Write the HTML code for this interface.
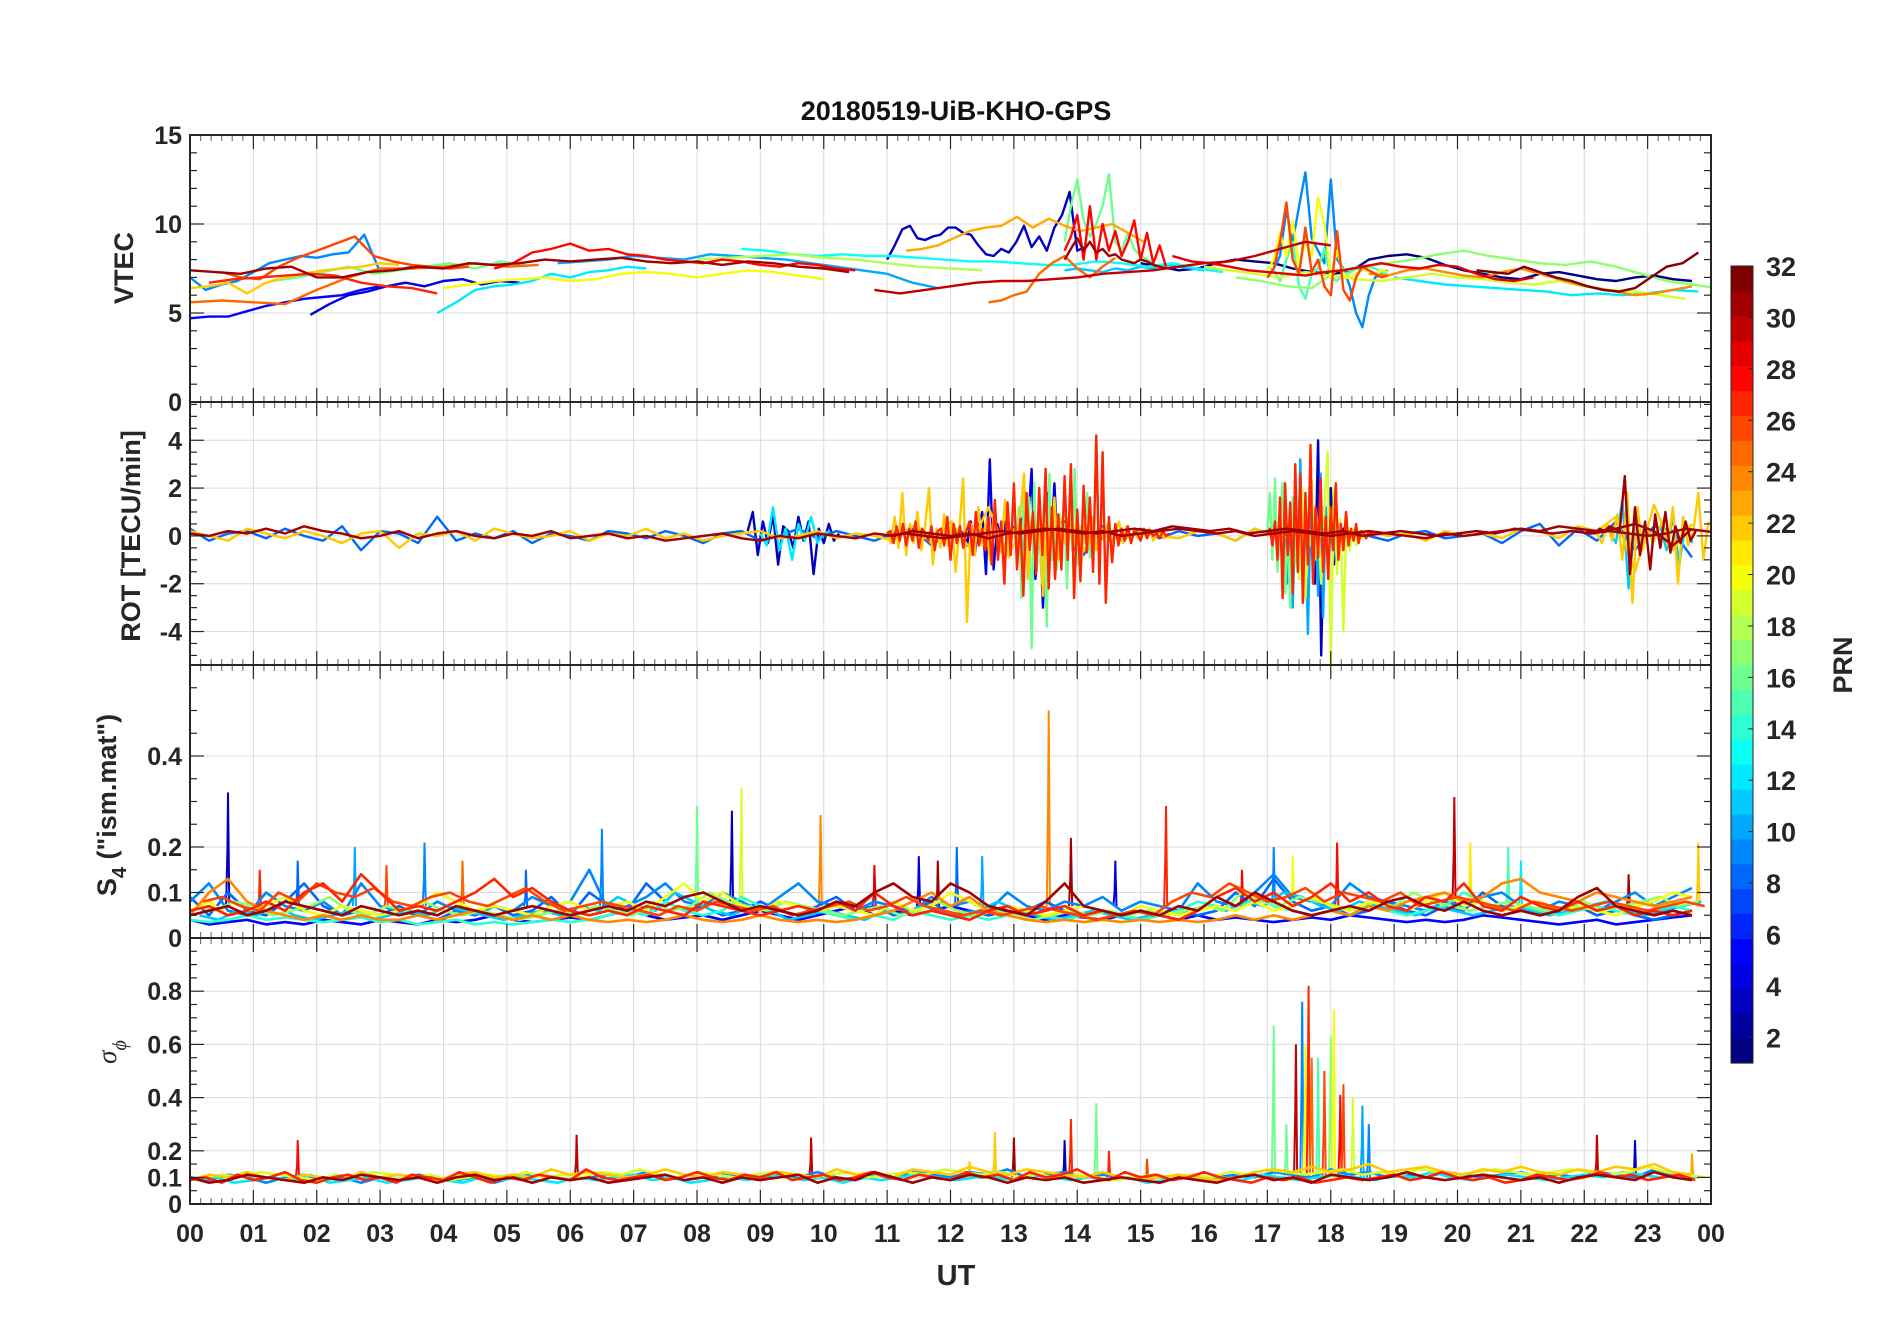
<!DOCTYPE html>
<html><head><meta charset="utf-8"><title>20180519-UiB-KHO-GPS</title>
<style>
html,body{margin:0;padding:0;background:#fff;}
svg{display:block;font-family:"Liberation Sans",Arial,sans-serif;}
</style></head>
<body>
<svg id="fig" width="1902" height="1330" viewBox="0 0 1902 1330" xmlns="http://www.w3.org/2000/svg">
<text x="956" y="120" text-anchor="middle" font-size="27" font-weight="bold" fill="#111">20180519-UiB-KHO-GPS</text>
<g id="panels"></g>
<text x="956" y="1285" text-anchor="middle" font-size="29" font-weight="bold" fill="#262626">UT</text>
<text transform="translate(133,268) rotate(-90)" text-anchor="middle" font-size="27" font-weight="bold" fill="#262626">VTEC</text>
<text transform="translate(140,536) rotate(-90)" text-anchor="middle" font-size="27" font-weight="bold" fill="#262626">ROT [TECU/min]</text>
<text transform="translate(116,805) rotate(-90)" text-anchor="middle" font-size="27" font-weight="bold" fill="#262626">S<tspan font-size="20" dy="10">4</tspan><tspan dy="-10"> ("ism.mat")</tspan></text>
<text transform="translate(116,1052) rotate(-90)" text-anchor="middle" font-size="27" font-style="italic" font-family="Liberation Serif,serif" fill="#262626">σ<tspan font-size="20" dy="10">ϕ</tspan></text>
<g id="cbar"></g>
<text transform="translate(1852,665) rotate(-90)" text-anchor="middle" font-size="27" font-weight="bold" fill="#262626">PRN</text>
</svg>
<script>
// ---------------- data ----------------
const hourLabels = ["00","01","02","03","04","05","06","07","08","09","10","11","12","13","14","15","16","17","18","19","20","21","22","23","00"];
const vtecTicks = [0,5,10,15];
const rotTicks = [-4,-2,0,2,4];
const s4Ticks = [0,0.1,0.2,0.4];
const sigTicks = [0,0.1,0.2,0.4,0.6,0.8];
const cbarTicks = [2,4,6,8,10,12,14,16,18,20,22,24,26,28,30,32];

const vtecPrn = [5,4,9,31,25,26,27,22,16,28,12,20,10,13,18,23,3,30,25,16,28,31,11,29,1,17,19,24,32,12,9,26,20,15];
const vtecT0  = [0,1.9,0,0,0,0.5,0.3,0,1.3,4.8,3.9,4.0,5.8,8.7,8.0,11.3,11.0,10.8,12.6,13.8,13.8,13.8,13.8,15.5,15.0,16.5,16.0,18.6,20.3,19.0,17.0,17.0,17.0,17.0];
const vtecDt  = [0.3,0.3,0.25,0.4,0.5,0.3,0.4,0.3,0.4,0.3,0.3,0.4,0.4,0.4,0.5,0.25,0.12,0.4,0.2,0.1,0.1,0.1,0.2,0.3,0.3,0.4,0.4,0.3,0.25,0.4,0.1,0.1,0.1,0.1];
const vtecVals = [
 [4.7,4.8,4.8,5.1,5.4,5.6,5.8,5.9,6.0,6.3,6.5],
 [4.9,5.5,6.0,6.2,6.5,6.7,6.5,6.8,6.9,6.6,6.8,6.7],
 [7.0,6.3,6.6,6.8,7.3,7.8,8.0,8.2,8.1,8.3,8.4,9.4,7.3,7.4,7.6],
 [7.4,7.3,7.2,7.5,7.6,7.0,7.0,7.3,7.4,7.6,7.5,7.8,7.7,7.8,8.0,7.9,8.0,8.1,7.9,7.8,7.9,7.7,7.9,7.8,7.6,7.5,7.3],
 [5.6,5.7,5.6,5.5,6.3,7.0,7.5,7.5,7.6,7.8,7.6,7.7],
 [7.3,7.0,6.9,7.6,8.1,8.5,8.9,9.3,8.2,7.9,7.7,7.6,7.5,7.6],
 [6.7,6.9,7.0,7.1,7.2,7.1,6.7,6.5,6.4,6.1],
 [6.4,6.5,6.7,6.1,6.7,7.0,7.2,7.4,7.5,7.6,7.8,7.7],
 [6.8,7.0,7.3,7.6,7.2,7.4,7.6,7.8,7.5,7.9,7.7],
 [7.5,7.8,8.4,8.6,8.9,8.5,8.6,8.3,8.2,8.0,7.9,7.8,8.0,7.9,7.7,7.6,7.8,7.7,7.5,7.4],
 [5.0,5.6,6.3,6.5,6.6,6.8,7.2,7.0,7.3,7.4,7.6,7.5],
 [6.4,6.6,6.8,6.9,7.0,6.8,6.9,7.2,7.3,7.2,7.0,7.2,7.4,7.3,7.1,6.9],
 [7.8,7.9,8.0,8.2,8.1,8.0,8.3,8.2,8.1,8.0,7.8,7.6,7.4,7.2,6.7,6.4],
 [8.6,8.5,8.3,8.2,8.3,8.2,8.2,8.1,8.0,7.9,7.9,7.8,7.7,7.7,7.9,7.8,7.6,7.8,7.5,7.3],
 [8.0,8.1,8.2,8.3,8.1,8.0,7.8,7.6,7.5,7.4],
 [8.5,8.6,8.8,9.2,9.6,9.8,9.9,10.4,9.8,10.3,9.9,9.6,9.8,10.0,9.5,9.0],
 [8.0,8.8,9.7,9.9,9.2,9.1,9.3,9.4,9.8,9.8,9.5,9.4,8.8,8.3,8.2,8.6,8.4,9.0,9.9,8.7,9.3,8.5,9.8,10.5,11.8,8.5,8.7],
 [6.3,6.1,6.3,6.5,6.7,6.8,6.8,6.9,7.0,7.2,7.3,7.4,7.6,7.8,7.9,8.2,8.6,9.0,8.8],
 [5.6,5.7,6.0,6.2,7.2,7.8,8.2,7.5,7.0,7.6,8.1],
 [9.0,11.0,12.5,10.2,9.3,10.0,11.0,12.8,9.0,8.5,9.5,8.6,8.2,8.0,7.8,7.5,7.6],
 [8.5,9.3,10.5,8.0,11.0,8.0,10.0,8.5,9.6,8.2,9.0,10.2,8.0,9.5,7.8,8.8,7.6],
 [8.0,8.6,9.2,8.5,9.0,8.4,8.6,8.2,8.3,8.0,7.9,7.8,8.0,7.9,7.7,7.6,7.5],
 [7.4,7.5,7.4,7.3,7.5,7.4,7.6,7.5,7.7,7.6,7.5,7.4],
 [8.2,7.9,7.8,7.6,7.4,7.3,7.2,7.1,7.3,7.4,7.6,7.8,7.6,7.5,7.7,7.6,7.2,6.9,6.8,7.0],
 [7.8,7.6,7.4,7.5,7.8,8.0,7.9,7.8,7.5,7.3,7.2,7.3,8.0,8.2,8.3,8.1,7.7,7.4,7.2,7.0,6.9,7.2,7.3,7.1,6.9,6.8,7.0,7.1,6.9,6.8],
 [7.0,6.8,6.5,6.4,7.4,7.6,7.8,8.0,8.3,8.5,8.2,8.0,7.8,7.7,7.9,7.6,7.2,6.8,6.6,6.4],
 [7.6,7.4,7.2,7.0,7.3,7.1,6.9,6.8,7.0,7.2,7.0,6.9,6.7,6.6,6.8,6.5,6.3,6.2,6.0,5.8],
 [7.2,7.1,7.4,7.5,7.3,7.1,7.0,7.3,7.5,7.2,6.9,6.6,6.4,6.2,6.0,6.1,6.3,6.5],
 [7.4,7.3,7.2,7.6,7.3,7.0,6.8,6.5,6.3,6.2,6.4,7.0,7.6,7.8,8.4],
 [7.0,6.8,6.6,6.5,6.4,6.3,6.2,6.0,6.1,6.0,6.1,6.3,6.2],
 [7.0,7.5,8.2,10.8,9.0,11.0,12.9,9.2,8.5,7.8,12.5,8.0,7.5,6.5,5.0,4.2,6.0,7.0,7.2,7.4],
 [7.0,7.5,9.0,11.2,8.0,7.2,9.8,7.3,8.0,6.5,6.0,9.6,6.3,5.7,7.0,7.6,7.4,7.2,7.0,7.1],
 [7.4,8.0,9.5,8.2,10.2,7.6,9.0,8.2,11.5,10.0,7.0,8.5,7.2,7.0,7.2,7.5,7.3,7.2,7.4,7.3],
 [7.6,7.4,6.8,8.0,9.0,6.5,5.8,7.2,7.5,8.6,7.0,6.8,7.2,7.3,7.5,7.4,7.6,7.5,7.3,7.2]
];

const rotPrn = [8,22,31,3,12,22,27,16,4,31,16,10,19,27,3,22,11,31];
const rotT0  = [0,0,0,8.8,9.0,11.0,11.0,13.0,12.2,11.0,17.0,17.2,17.4,17.0,17.6,22.2,22.4,22.0];
const rotDt  = [0.3,0.3,0.3,0.08,0.1,0.06,0.05,0.04,0.06,0.3,0.04,0.04,0.05,0.04,0.05,0.08,0.1,0.08];
const rotVals = [
 [0.3,-0.2,0.1,0.2,-0.1,0.3,0.0,-0.2,0.4,-0.6,0.2,0.1,-0.3,0.8,-0.2,0.1,-0.1,0.2,-0.3,0.1,0.0,-0.2,0.2,0.1,-0.1,0.2,0.0,-0.3,0.1,0.2,-0.2,0.0,0.3,-0.1,0.2,0.0,-0.2,0.1,0.3,-0.4,0.2,0.0,-0.1,0.2,0.5,-0.3,0.6,-0.8,0.4,-0.2,0.3,-0.1,0.2,0.0,0.1,-0.2,0.3,0.0,-0.1,0.2,-0.1,0.1,0.0,-0.2,0.1,0.2,-0.1,0.0,0.1,-0.3,0.2,0.5,-0.4,0.3,-0.2,0.6,-0.6,0.4,0.2,-0.9],
 [0.2,0.0,-0.2,0.3,0.1,-0.1,0.2,0.0,-0.3,0.1,0.2,-0.5,0.1,0.0,0.2,-0.2,0.3,0.1,-0.1,0.0,0.2,-0.2,0.1,0.0,0.3,-0.1,0.1,-0.2,0.0,0.1,0.2,-0.1,0.0,0.2,-0.1,0.1,0.0,-0.2,0.4,-0.3,0.6,-0.5,1.2,-0.8,0.5,-0.4,0.9,-0.6,0.3,-0.2,0.2,0.0,-0.1,0.2,0.1,-0.2,0.3,0.0,-0.1,0.2,0.1,-0.1,0.2,0.0,0.1,-0.2,0.2,0.0,0.1,-0.1,0.3,0.2,-0.1,0.4,0.2,0.8,-1.5,1.3,-0.6,0.5],
 [0.1,0.0,0.2,0.1,0.3,0.1,0.4,0.2,0.1,-0.1,0.0,0.2,-0.1,0.1,0.2,0.0,-0.1,0.1,0.0,0.2,-0.1,0.0,0.1,-0.1,0.0,-0.2,-0.1,0.0,0.1,-0.1,-0.2,0.0,-0.1,0.1,0.0,-0.1,0.1,0.0,0.2,0.1,0.0,0.1,-0.1,0.1,0.2,0.3,0.2,0.1,0.2,0.0,0.1,0.2,0.3,0.2,0.1,0.2,0.0,0.1,0.2,0.1,0.0,0.1,0.2,0.1,0.0,-0.1,0.1,0.0,0.1,0.2,0.3,0.2,0.4,0.3,0.2,0.3,0.5,0.2,-0.4,0.3],
 [0.2,1.0,-0.8,0.6,-0.3,0.9,-1.2,0.4,0.2,-0.5,0.8,-0.2,0.6,-1.6,0.3,-0.3,0.5,-0.2,0.1],
 [0.1,-0.4,1.2,-0.6,0.3,-1.0,0.5,-0.2,0.8,-0.3,0.1,0.2],
 [0.2,-0.3,0.8,-0.5,1.8,-0.8,0.5,-0.3,1.0,-0.6,0.4,2.0,-1.2,0.3,-0.5,0.9,-0.4,0.6,-1.5,0.3,2.4,-3.6,0.5,-0.8,1.2,-0.4,0.6,-1.0,0.9,0.2,-0.7,1.5,-0.9,0.3,-0.2,0.8,2.6,-1.8,0.6,-0.4,1.0,-2.5,0.8,-0.6,1.6,-1.0,0.4,-0.3,0.7,-0.5,0.9,-1.2,0.5,-0.3,0.8,-0.6,0.3,-0.2,0.5,-0.4,0.2,0.6,-0.3,0.4,-0.2,0.3,-0.1,0.2,0.0,0.3,-0.2,0.1,0.2,-0.1,0.1],
 [0.1,0.2,-0.3,0.4,-0.2,0.5,-0.4,0.3,-0.2,0.6,-0.5,0.3,0.1,-0.2,0.4,-0.6,0.2,0.3,-0.4,0.8,-1.0,0.5,-0.3,0.4,-0.5,0.2,0.6,-0.8,1.0,-0.4,0.3,-0.6,0.8,-1.2,1.5,-1.0,0.6,-2.0,1.4,-0.8,2.2,-1.4,0.7,-2.5,1.8,-0.6,1.0,-1.6,2.0,-0.8,2.8,-2.2,1.2,-1.8,0.9,-1.4,2.5,-1.0,3.0,-2.6,1.1,-1.9,2.1,-0.7,1.6,-1.5,4.2,-2.0,3.5,-2.8,0.8,-1.1,0.5,-0.4,0.3,-0.2,0.4,-0.3,0.2,0.1,-0.2,0.3,-0.1,0.2,0.0,0.1,-0.1,0.2,0.0,0.1],
 [0.3,-0.5,1.2,-2.6,2.5,-0.8,1.6,-4.7,2.2,-1.5,0.8,-2.0,1.0,-3.8,2.6,-1.0,0.6,-1.4,0.9,-0.4,0.5,-2.2,1.4,-0.6,2.8,-1.2,0.4,-0.5,0.3,1.8,-0.9,0.4,-0.2,0.3,-0.1,0.2,0.1,0.0],
 [0.2,-0.4,0.6,-0.8,0.3,1.0,-1.6,3.2,-1.4,0.5,-0.3,0.6,-0.8,0.4,-0.2,0.9,-0.5,0.3,2.8,-1.8,0.6,-3.0,1.8,-0.8,2.2,-1.0,0.6,-0.4,0.9,-0.6,0.3,-0.2,0.4,-0.3,0.2,0.1,-0.2,0.1,0.0],
 [0.0,0.1,0.0,-0.1,0.0,0.1,0.2,0.1,0.2,0.3,0.2,0.1,0.2,0.3,0.2,0.4,0.3,0.2,0.3,0.1,0.2,0.3,0.2,0.1,0.2,0.0,0.1,0.2,0.1,0.0,0.1,0.2,0.1,0.3,0.2,0.1,0.2,0.1,0.2,0.1,0.0,0.1,0.3,0.2,0.1],
 [0.2,1.8,-1.0,2.4,-1.5,0.6,2.2,-2.4,0.5,-3.0,1.6,-1.2,0.4,-0.6,1.0,-2.6,0.8,-0.4,0.3,-0.1,0.2,0.0,0.1],
 [0.1,-1.2,0.6,-2.0,1.2,-3.0,0.8,-1.5,3.2,-2.8,0.4,-4.1,1.0,-1.8,0.6,-2.5,2.6,-3.4,1.2,-0.6,0.3,-1.0,0.4,-0.2,0.3,-0.1],
 [0.2,1.4,-1.8,2.0,-2.6,0.8,2.3,-1.0,0.6,-2.0,1.2,3.5,-5.4,2.0,-1.6,0.7,-4.0,0.9,-0.6,0.3,-0.4,0.2,-0.1,0.2],
 [0.1,0.3,-0.4,0.6,-1.0,1.6,-2.6,2.2,-0.8,1.4,-2.4,3.0,-1.5,2.6,-2.8,1.8,-1.2,3.8,-2.0,1.2,-0.9,2.4,-1.5,0.8,-1.8,1.2,-0.6,2.2,-1.0,0.5,-0.6,1.0,-0.4,0.3,-0.2,0.5,-0.3,0.2,0.1,-0.1,0.2,0.1,0.0],
 [0.2,-0.5,1.4,-2.0,4.0,-5.0,1.2,-0.8,2.0,-1.2,0.6,-0.4,0.3,-0.2,0.2],
 [0.1,-0.3,0.5,-0.2,0.9,-1.0,1.8,-2.8,1.2,-0.6,0.4,-0.3,0.2,0.6,-0.4,1.2,-2.0,0.8,-0.4,0.2,1.8,-1.0,0.6],
 [0.2,-0.3,1.5,-2.2,0.6,-0.4,0.3,-0.2,0.4,-0.6,0.8,-1.2,0.5,-0.3],
 [0.1,0.2,0.1,0.3,0.2,0.4,0.3,0.2,2.5,-1.6,1.2,-0.8,0.6,-1.4,0.9,-0.5,1.0,-0.7,0.4,-0.3,0.6,-0.2,0.2]
];

const s4Prn = [5,9,27,31,20,14,24,8,11,17,26];
const s4T0  = [0,0,0,0,0,0,0,0,0.15,0.1,0.2];
const s4Dt  = [0.3,0.3,0.3,0.3,0.3,0.3,0.3,0.3,0.3,0.3,0.3];
const s4Vals = [
 [0.04,0.03,0.035,0.04,0.03,0.035,0.03,0.04,0.035,0.03,0.04,0.035,0.03,0.04,0.035,0.04,0.05,0.04,0.035,0.04,0.045,0.04,0.05,0.06,0.05,0.04,0.045,0.05,0.04,0.05,0.06,0.05,0.04,0.05,0.06,0.07,0.05,0.06,0.05,0.06,0.07,0.06,0.05,0.06,0.05,0.04,0.05,0.045,0.04,0.05,0.06,0.05,0.04,0.05,0.04,0.045,0.04,0.035,0.04,0.045,0.04,0.05,0.045,0.04,0.035,0.04,0.035,0.04,0.05,0.045,0.04,0.035,0.03,0.035,0.04,0.03,0.035,0.04,0.045,0.05],
 [0.08,0.12,0.06,0.05,0.1,0.07,0.06,0.08,0.05,0.12,0.07,0.06,0.05,0.08,0.06,0.05,0.07,0.06,0.09,0.07,0.08,0.15,0.06,0.07,0.09,0.12,0.08,0.07,0.1,0.08,0.06,0.09,0.12,0.08,0.07,0.06,0.08,0.07,0.06,0.09,0.07,0.08,0.06,0.1,0.07,0.06,0.08,0.07,0.09,0.06,0.08,0.07,0.06,0.12,0.08,0.07,0.1,0.14,0.09,0.08,0.07,0.12,0.09,0.08,0.07,0.06,0.08,0.07,0.09,0.1,0.07,0.06,0.08,0.07,0.06,0.08,0.1,0.07,0.09,0.11],
 [0.06,0.07,0.05,0.06,0.08,0.06,0.1,0.12,0.08,0.14,0.1,0.06,0.07,0.06,0.08,0.1,0.13,0.09,0.11,0.08,0.06,0.05,0.06,0.05,0.07,0.06,0.05,0.08,0.07,0.06,0.05,0.06,0.07,0.06,0.08,0.06,0.1,0.07,0.05,0.06,0.05,0.04,0.06,0.07,0.05,0.06,0.07,0.05,0.06,0.05,0.06,0.05,0.04,0.06,0.09,0.11,0.08,0.1,0.07,0.09,0.12,0.08,0.1,0.07,0.06,0.09,0.08,0.12,0.07,0.06,0.09,0.07,0.06,0.08,0.06,0.07,0.05,0.06,0.05,0.06],
 [0.05,0.06,0.07,0.05,0.06,0.08,0.07,0.06,0.05,0.07,0.06,0.05,0.06,0.05,0.07,0.06,0.05,0.06,0.07,0.06,0.05,0.06,0.07,0.06,0.08,0.07,0.09,0.1,0.08,0.06,0.07,0.06,0.05,0.06,0.08,0.07,0.1,0.12,0.09,0.08,0.12,0.1,0.07,0.06,0.05,0.08,0.12,0.07,0.06,0.05,0.06,0.05,0.07,0.06,0.09,0.07,0.1,0.08,0.06,0.05,0.06,0.07,0.06,0.08,0.09,0.07,0.06,0.08,0.06,0.05,0.06,0.05,0.06,0.09,0.11,0.07,0.06,0.05,0.06,0.05],
 [0.06,0.08,0.05,0.06,0.07,0.09,0.06,0.05,0.07,0.06,0.05,0.06,0.07,0.1,0.08,0.06,0.07,0.06,0.05,0.07,0.08,0.06,0.07,0.08,0.06,0.09,0.12,0.08,0.1,0.07,0.06,0.08,0.07,0.06,0.07,0.06,0.05,0.08,0.06,0.07,0.1,0.08,0.06,0.07,0.06,0.05,0.06,0.07,0.06,0.05,0.07,0.06,0.05,0.06,0.07,0.06,0.08,0.06,0.07,0.09,0.07,0.06,0.08,0.07,0.06,0.08,0.1,0.07,0.08,0.06,0.07,0.08,0.06,0.07,0.06,0.05,0.07,0.08,0.1,0.09],
 [0.04,0.035,0.04,0.05,0.04,0.045,0.04,0.035,0.04,0.045,0.035,0.04,0.03,0.035,0.04,0.03,0.035,0.03,0.035,0.04,0.035,0.04,0.05,0.06,0.05,0.08,0.06,0.05,0.06,0.09,0.07,0.06,0.05,0.06,0.05,0.04,0.05,0.04,0.06,0.05,0.04,0.05,0.04,0.05,0.06,0.05,0.04,0.05,0.06,0.05,0.04,0.05,0.06,0.08,0.07,0.06,0.09,0.07,0.06,0.05,0.06,0.05,0.07,0.06,0.05,0.06,0.07,0.1,0.08,0.06,0.07,0.06,0.05,0.06,0.07,0.06,0.05,0.06,0.07,0.06],
 [0.05,0.1,0.13,0.08,0.06,0.05,0.04,0.05,0.04,0.05,0.04,0.04,0.05,0.04,0.05,0.06,0.05,0.04,0.05,0.04,0.05,0.04,0.035,0.04,0.035,0.04,0.05,0.04,0.035,0.04,0.05,0.04,0.035,0.04,0.035,0.04,0.05,0.06,0.08,0.1,0.07,0.09,0.06,0.05,0.04,0.035,0.04,0.035,0.04,0.035,0.04,0.035,0.04,0.035,0.04,0.05,0.04,0.05,0.04,0.05,0.06,0.05,0.07,0.06,0.08,0.09,0.1,0.08,0.09,0.12,0.13,0.1,0.09,0.08,0.1,0.09,0.08,0.07,0.08,0.09],
 [0.09,0.05,0.1,0.06,0.05,0.08,0.12,0.07,0.05,0.06,0.05,0.07,0.05,0.04,0.06,0.05,0.07,0.05,0.06,0.09,0.05,0.1,0.07,0.06,0.12,0.08,0.06,0.07,0.05,0.06,0.08,0.06,0.05,0.07,0.09,0.06,0.07,0.05,0.06,0.08,0.05,0.06,0.05,0.07,0.06,0.08,0.06,0.05,0.06,0.05,0.04,0.05,0.06,0.05,0.06,0.1,0.07,0.13,0.08,0.06,0.07,0.05,0.06,0.08,0.06,0.05,0.07,0.06,0.1,0.07,0.06,0.05,0.06,0.07,0.05,0.06,0.05,0.04,0.05,0.06],
 [0.05,0.04,0.06,0.05,0.07,0.05,0.04,0.05,0.06,0.04,0.05,0.06,0.05,0.07,0.06,0.05,0.04,0.05,0.06,0.05,0.07,0.06,0.09,0.07,0.06,0.1,0.08,0.06,0.05,0.07,0.06,0.04,0.05,0.06,0.05,0.04,0.06,0.05,0.07,0.06,0.05,0.06,0.08,0.06,0.05,0.04,0.05,0.06,0.05,0.04,0.05,0.06,0.05,0.07,0.06,0.08,0.07,0.1,0.09,0.07,0.06,0.08,0.07,0.06,0.05,0.07,0.06,0.05,0.06,0.07,0.06,0.05,0.06,0.07,0.08,0.06,0.05,0.06,0.07,0.08],
 [0.07,0.06,0.08,0.07,0.05,0.06,0.07,0.09,0.06,0.05,0.07,0.06,0.08,0.06,0.05,0.06,0.05,0.04,0.05,0.06,0.05,0.07,0.06,0.05,0.08,0.06,0.07,0.1,0.08,0.07,0.06,0.08,0.07,0.06,0.05,0.06,0.07,0.05,0.06,0.08,0.06,0.05,0.06,0.05,0.04,0.05,0.06,0.05,0.06,0.05,0.06,0.05,0.06,0.07,0.06,0.1,0.08,0.07,0.09,0.08,0.07,0.06,0.08,0.07,0.1,0.08,0.07,0.06,0.07,0.08,0.07,0.06,0.07,0.08,0.06,0.07,0.08,0.09,0.07,0.08],
 [0.08,0.09,0.07,0.06,0.1,0.08,0.12,0.1,0.09,0.11,0.08,0.07,0.09,0.1,0.08,0.07,0.09,0.11,0.08,0.06,0.07,0.08,0.07,0.06,0.05,0.07,0.06,0.08,0.07,0.06,0.07,0.05,0.06,0.07,0.08,0.06,0.07,0.09,0.07,0.06,0.05,0.06,0.05,0.06,0.07,0.06,0.05,0.04,0.05,0.06,0.05,0.08,0.1,0.09,0.12,0.1,0.08,0.09,0.11,0.08,0.1,0.09,0.08,0.1,0.07,0.08,0.09,0.08,0.07,0.06,0.08,0.07,0.06,0.07,0.08,0.07,0.06,0.07,0.08,0.07]
];
const s4SpikeT = [0.6,1.7,2.6,3.7,6.5,8.0,8.55,8.7,9.95,11.5,12.1,13.55,13.9,15.4,17.1,18.1,19.95,20.2,20.8,23.8,11.8,12.5,14.6,17.4,21.0,1.1,3.1,4.3,5.3,10.8,16.6,22.7];
const s4SpikeV = [0.32,0.17,0.2,0.21,0.24,0.29,0.28,0.33,0.27,0.18,0.2,0.5,0.22,0.29,0.2,0.21,0.31,0.21,0.2,0.21,0.17,0.18,0.17,0.18,0.17,0.15,0.16,0.17,0.15,0.16,0.15,0.14];
const s4SpikePrn = [3,8,10,9,9,16,3,19,24,4,8,24,31,27,9,28,30,21,15,22,31,10,4,20,12,27,26,25,8,29,28,31];

const sigPrn = [9,22,27,31,12,19];
const sigT0 = [0,0,0,0,0.1,0.2];
const sigDt = [0.3,0.3,0.25,0.3,0.3,0.3];
const sigVals = [
 [0.1,0.09,0.11,0.1,0.08,0.1,0.11,0.09,0.1,0.08,0.1,0.09,0.11,0.1,0.09,0.1,0.08,0.1,0.11,0.1,0.09,0.1,0.11,0.1,0.12,0.1,0.09,0.1,0.11,0.1,0.09,0.11,0.1,0.12,0.1,0.09,0.11,0.1,0.12,0.11,0.1,0.12,0.11,0.13,0.1,0.11,0.12,0.1,0.11,0.1,0.09,0.1,0.1,0.09,0.1,0.11,0.1,0.12,0.11,0.1,0.13,0.11,0.12,0.1,0.11,0.1,0.12,0.11,0.1,0.11,0.12,0.1,0.11,0.1,0.12,0.11,0.1,0.13,0.11,0.1],
 [0.09,0.11,0.1,0.12,0.1,0.09,0.11,0.1,0.09,0.12,0.1,0.11,0.1,0.09,0.11,0.12,0.1,0.11,0.1,0.13,0.11,0.12,0.11,0.1,0.11,0.13,0.11,0.1,0.12,0.11,0.1,0.12,0.11,0.1,0.13,0.11,0.12,0.1,0.13,0.12,0.11,0.14,0.12,0.11,0.13,0.12,0.11,0.1,0.12,0.1,0.09,0.1,0.11,0.1,0.09,0.1,0.12,0.13,0.12,0.14,0.12,0.13,0.15,0.12,0.13,0.14,0.12,0.11,0.13,0.12,0.14,0.12,0.11,0.13,0.12,0.14,0.13,0.15,0.12,0.11],
 [0.09,0.1,0.08,0.11,0.09,0.1,0.12,0.09,0.08,0.1,0.11,0.09,0.1,0.08,0.11,0.1,0.09,0.12,0.1,0.08,0.1,0.09,0.11,0.1,0.09,0.13,0.1,0.09,0.1,0.11,0.09,0.1,0.12,0.1,0.09,0.11,0.1,0.12,0.09,0.1,0.11,0.09,0.1,0.12,0.1,0.09,0.11,0.1,0.09,0.12,0.1,0.11,0.09,0.12,0.1,0.11,0.13,0.1,0.09,0.12,0.1,0.11,0.09,0.1,0.12,0.1,0.09,0.08,0.1,0.09,0.1,0.08,0.09,0.1,0.09,0.1,0.11,0.09,0.1,0.12,0.1,0.09,0.1,0.08,0.09,0.11,0.1,0.09,0.1,0.12,0.1,0.11,0.09,0.1,0.11,0.09],
 [0.1,0.08,0.09,0.11,0.1,0.09,0.08,0.1,0.09,0.11,0.1,0.09,0.1,0.08,0.1,0.11,0.09,0.1,0.08,0.1,0.09,0.1,0.08,0.09,0.1,0.11,0.09,0.1,0.08,0.1,0.09,0.1,0.11,0.08,0.1,0.09,0.12,0.1,0.08,0.1,0.09,0.11,0.1,0.08,0.1,0.09,0.1,0.08,0.09,0.1,0.09,0.08,0.1,0.09,0.08,0.1,0.11,0.09,0.1,0.08,0.11,0.1,0.09,0.1,0.12,0.1,0.09,0.1,0.11,0.1,0.09,0.1,0.08,0.1,0.11,0.1,0.09,0.12,0.1,0.09],
 [0.09,0.1,0.08,0.09,0.1,0.09,0.11,0.08,0.09,0.1,0.08,0.09,0.1,0.09,0.08,0.1,0.09,0.1,0.09,0.08,0.1,0.09,0.1,0.11,0.09,0.1,0.08,0.09,0.1,0.09,0.11,0.1,0.09,0.1,0.08,0.1,0.09,0.1,0.11,0.1,0.09,0.1,0.1,0.09,0.11,0.1,0.09,0.1,0.09,0.1,0.08,0.09,0.1,0.09,0.1,0.09,0.11,0.1,0.09,0.1,0.11,0.1,0.09,0.11,0.1,0.12,0.1,0.09,0.1,0.11,0.1,0.09,0.1,0.11,0.1,0.12,0.11,0.1,0.11,0.1],
 [0.1,0.11,0.1,0.12,0.11,0.1,0.09,0.11,0.1,0.12,0.11,0.1,0.11,0.09,0.1,0.11,0.1,0.12,0.1,0.11,0.1,0.12,0.11,0.13,0.11,0.1,0.12,0.11,0.1,0.11,0.12,0.11,0.1,0.11,0.12,0.1,0.11,0.12,0.11,0.13,0.12,0.11,0.12,0.1,0.11,0.1,0.11,0.1,0.09,0.1,0.11,0.1,0.11,0.1,0.12,0.11,0.13,0.12,0.11,0.12,0.13,0.11,0.12,0.11,0.13,0.12,0.11,0.12,0.13,0.12,0.11,0.12,0.13,0.12,0.11,0.12,0.14,0.12,0.11,0.1]
];
const sigSpikeT = [1.7,6.1,9.8,12.7,13.0,13.8,13.9,14.3,14.5,17.1,17.3,17.45,17.55,17.6,17.65,17.7,17.8,17.9,18.0,18.05,18.15,18.2,18.35,18.5,18.6,22.2,22.8,23.7,12.3,15.1];
const sigSpikeV = [0.24,0.26,0.25,0.27,0.25,0.24,0.32,0.38,0.2,0.67,0.3,0.6,0.76,0.6,0.82,0.55,0.55,0.5,0.63,0.73,0.41,0.45,0.4,0.37,0.3,0.26,0.24,0.19,0.16,0.17];
const sigSpikePrn = [28,30,30,22,31,3,27,16,27,16,16,30,9,20,27,25,15,26,17,20,28,26,19,10,9,30,3,23,22,26];

// ---------------- helpers ----------------
const NS = "http://www.w3.org/2000/svg";
const X0 = 190, X1 = 1711;
function xs(h){ return X0 + (X1 - X0) * h / 24; }
function jet(p){
  const x = (p - 1) / 31;
  const c = v => Math.round(255 * Math.max(0, Math.min(1, v)));
  return `rgb(${c(1.5-Math.abs(4*x-3))},${c(1.5-Math.abs(4*x-2))},${c(1.5-Math.abs(4*x-1))})`;
}
function mk(tag, attrs, parent){
  const e = document.createElementNS(NS, tag);
  for (const k in attrs) e.setAttribute(k, attrs[k]);
  parent.appendChild(e);
  return e;
}
const panelsG = document.getElementById("panels");
const panels = [
  {name:"vtec", top:135, bot:402, lo:0, hi:15, ticks:vtecTicks, minor:1, labels:vtecTicks.map(String)},
  {name:"rot", top:402, bot:665, lo:-5.4, hi:5.6, ticks:rotTicks, minor:0.5, labels:rotTicks.map(String)},
  {name:"s4", top:665, bot:938, lo:0, hi:0.6, ticks:s4Ticks, minor:0.05, labels:s4Ticks.map(v=>v===0?"0":String(v))},
  {name:"sigma", top:938, bot:1204, lo:0, hi:1, ticks:sigTicks, minor:0.05, labels:sigTicks.map(v=>v===0?"0":String(v))}
];
function ys(P, v){ return P.bot - (v - P.lo) / (P.hi - P.lo) * (P.bot - P.top); }

panels.forEach((P, pi) => {
  const g = mk("g", {}, panelsG);
  
  
  for (let h = 1; h < 24; h++) {
    const l = mk("line", {x1:xs(h), x2:xs(h), y1:P.top, y2:P.bot, stroke:"#dcdcdc", "stroke-width":1}, g);
    
    
  }
  P.ticks.forEach((t, i) => {
    const y = ys(P, t);
    if (y > P.top + 1 && y < P.bot - 1) {
      const l = mk("line", {x1:X0, x2:X1, y1:y, y2:y, stroke:"#dcdcdc", "stroke-width":1}, g);
      
      
    }
    const tx = mk("text", {x:X0 - 8, y:y + 9, "text-anchor":"end", "font-size":25, "font-weight":"bold", fill:"#262626"}, g);
    tx.textContent = P.labels[i];
    
    
  });
  const cp = mk("clipPath", {id:"clip" + pi}, g);
  mk("rect", {x:X0, y:P.top, width:X1 - X0, height:P.bot - P.top}, cp);
  const dg = mk("g", {"clip-path":`url(#clip${pi})`}, g);
  
  
  P.dg = dg; P.g = g;
});

function drawSeries(P, prns, t0s, dts, vals, width){
  const idx = prns.map((p, i) => i).sort((a, b) => prns[a] - prns[b]);
  idx.forEach(i => {
    const pts = vals[i].map((v, k) => xs(t0s[i] + k * dts[i]).toFixed(1) + "," + ys(P, v).toFixed(1)).join(" ");
    const pl = mk("polyline", {points:pts, fill:"none", stroke:jet(prns[i]), "stroke-width":width, "stroke-linejoin":"round"}, P.dg);
    
    
  });
}
function drawSpikes(P, ts, vs, prns, base){
  ts.forEach((t, i) => {
    const pts = [[t - 0.03, base], [t - 0.01, vs[i] * 0.6], [t, vs[i]], [t + 0.02, base]]
      .map(q => xs(q[0]).toFixed(1) + "," + ys(P, q[1]).toFixed(1)).join(" ");
    const pl = mk("polyline", {points:pts, fill:"none", stroke:jet(prns[i]), "stroke-width":2}, P.dg);
    
    
  });
}
drawSeries(panels[0], vtecPrn, vtecT0, vtecDt, vtecVals, 2.4);
drawSeries(panels[1], rotPrn, rotT0, rotDt, rotVals, 2.4);
drawSpikes(panels[2], s4SpikeT, s4SpikeV, s4SpikePrn, 0.07);
drawSeries(panels[2], s4Prn, s4T0, s4Dt, s4Vals, 2.6);
drawSpikes(panels[3], sigSpikeT, sigSpikeV, sigSpikePrn, 0.1);
drawSeries(panels[3], sigPrn, sigT0, sigDt, sigVals, 2.6);

panels.forEach(P => {
  const g = P.g;
  for (let m = 0; m <= 144; m++) {
    const x = xs(m / 6), major = m % 6 === 0, len = major ? 14 : 6;
    mk("line", {x1:x, x2:x, y1:P.bot, y2:P.bot - len, stroke:major ? "#262626" : "#777", "stroke-width":1.2}, g);
    mk("line", {x1:x, x2:x, y1:P.top, y2:P.top + len, stroke:major ? "#262626" : "#777", "stroke-width":1.2}, g);
  }
  for (let v = P.lo; v <= P.hi + 1e-9; v += P.minor) {
    const vv = Math.round(v / P.minor) * P.minor;
    const y = ys(P, vv);
    if (y < P.top || y > P.bot) continue;
    const major = P.ticks.some(t => Math.abs(t - vv) < 1e-6), len = major ? 14 : 7;
    mk("line", {x1:X0, x2:X0 + len, y1:y, y2:y, stroke:"#262626", "stroke-width":1.2}, g);
    mk("line", {x1:X1, x2:X1 - len, y1:y, y2:y, stroke:"#262626", "stroke-width":1.2}, g);
  }
  const r = mk("rect", {x:X0, y:P.top, width:X1 - X0, height:P.bot - P.top, fill:"none", stroke:"#262626", "stroke-width":2}, g);
  
  
});

hourLabels.forEach((s, h) => {
  const t = mk("text", {x:xs(h), y:1242, "text-anchor":"middle", "font-size":25, "font-weight":"bold", fill:"#262626"}, panelsG);
  t.textContent = s;
  
  
});

const cb = document.getElementById("cbar");
const CB = {x:1731, w:22, top:266, bot:1063};
for (let k = 1; k <= 32; k++) {
  const h = (CB.bot - CB.top) / 32;
  const r = mk("rect", {x:CB.x, y:CB.bot - k * h, width:CB.w, height:h + 0.6, fill:jet(k)}, cb);
  
  
}
mk("rect", {x:CB.x, y:CB.top, width:CB.w, height:CB.bot - CB.top, fill:"none", stroke:"#262626", "stroke-width":1}, cb);
cbarTicks.forEach(v => {
  const y = CB.bot - (v - 1) / 31 * (CB.bot - CB.top);
  mk("line", {x1:CB.x + CB.w - 5, x2:CB.x + CB.w, y1:y, y2:y, stroke:"#262626", "stroke-width":1}, cb);
  const t = mk("text", {x:1766, y:y + 10, "font-size":27, "font-weight":"bold", fill:"#262626"}, cb);
  t.textContent = String(v);
  
  
});
</script>
</body></html>
